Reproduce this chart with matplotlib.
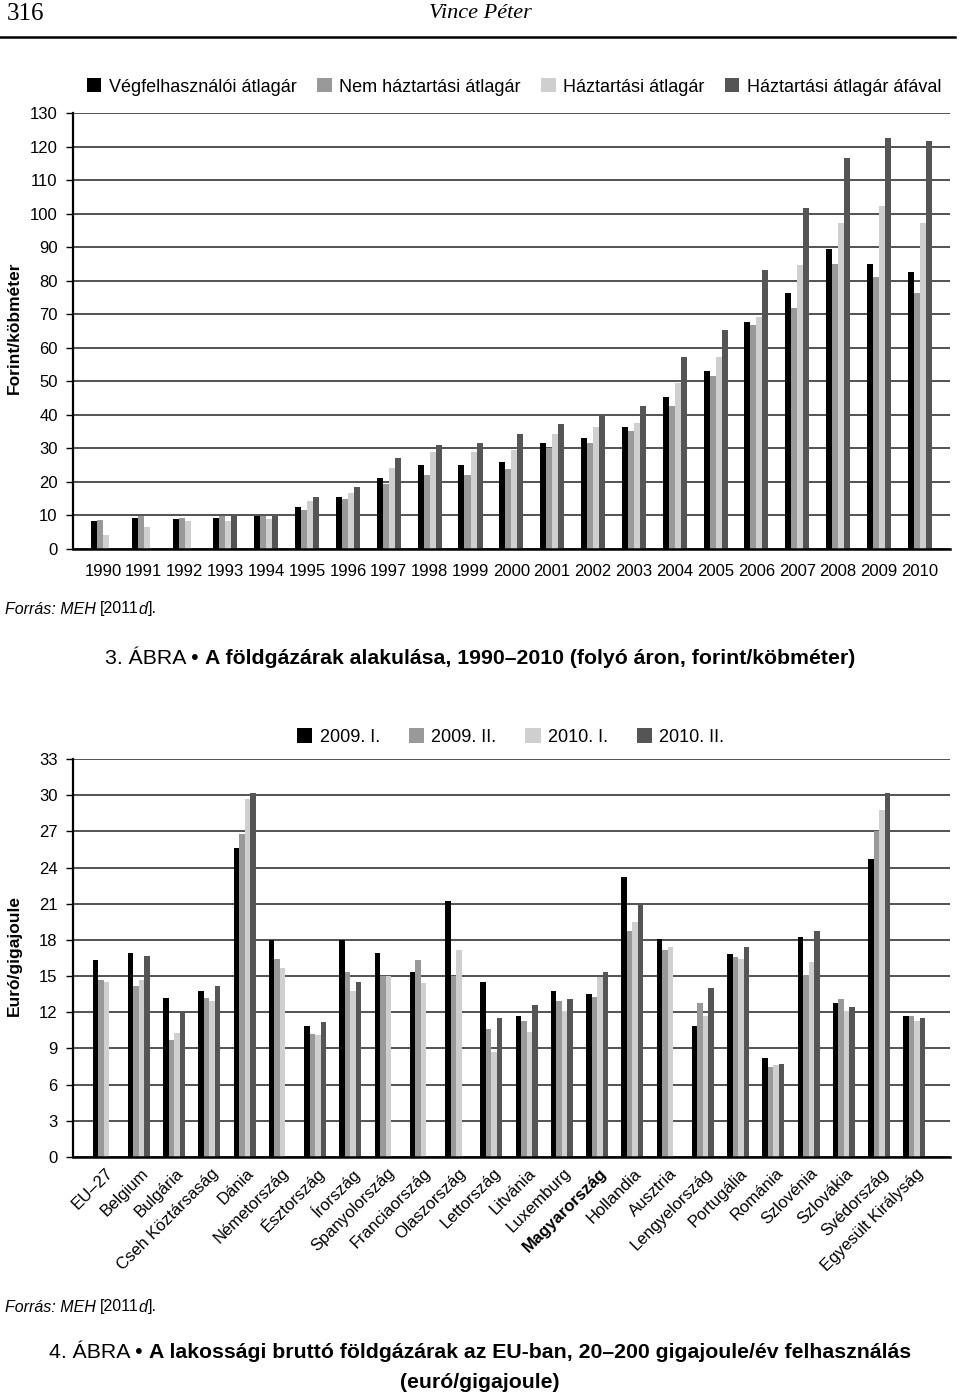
import numpy as np
import matplotlib
matplotlib.use("Agg")
import matplotlib.pyplot as plt
from matplotlib import transforms

plt.rcParams["font.family"] = ["Liberation Sans", "DejaVu Sans"]

# --- 3. ábra: földgázárak 1990-2010 (Ft/m3) ---
years = ["1990", "1991", "1992", "1993", "1994", "1995", "1996", "1997", "1998", "1999", "2000",
         "2001", "2002", "2003", "2004", "2005", "2006", "2007", "2008", "2009", "2010"]
vegfelhasznaloi = [8.2, 9.3, 8.8, 9.3, 9.9, 12.4, 15.6, 21.2, 25.1, 25.1, 25.8,
                   31.6, 33.2, 36.4, 45.2, 53.0, 67.7, 76.2, 89.5, 85.1, 82.7]
nem_haztartasi = [8.7, 9.7, 9.2, 9.9, 9.9, 11.7, 14.9, 19.5, 22.0, 22.0, 24.0,
                  30.1, 31.6, 35.3, 42.7, 51.6, 66.7, 71.8, 85.1, 81.0, 76.3]
haztartasi = [4.1, 6.7, 8.2, 8.3, 8.8, 14.2, 16.7, 24.1, 28.9, 28.9, 29.4,
              34.2, 36.4, 37.7, 49.4, 57.1, 69.1, 84.7, 97.3, 102.3, 97.3]
haztartasi_afa = [np.nan, np.nan, np.nan, 9.9, 9.9, 15.6, 18.6, 27.1, 31.1, 31.7, 34.2,
                  37.2, 39.8, 42.7, 57.1, 65.4, 83.2, 101.7, 116.6, 122.5, 121.7]
top_labels = ["Végfelhasználói átlagár", "Nem háztartási átlagár",
              "Háztartási átlagár", "Háztartási átlagár áfával"]
top_ticks = list(range(0, 131, 10))

# --- 4. ábra: lakossági bruttó földgázárak az EU-ban (euró/GJ) ---
countries = ["EU–27", "Belgium", "Bulgária", "Cseh Köztársaság", "Dánia", "Németország",
             "Észtország", "Írország", "Spanyolország", "Franciaország", "Olaszország",
             "Lettország", "Litvánia", "Luxemburg", "Magyarország", "Hollandia", "Ausztria",
             "Lengyelország", "Portugália", "Románia", "Szlovénia", "Szlovákia",
             "Svédország", "Egyesült Királyság"]
h2009_1 = [16.3, 16.9, 13.2, 13.8, 25.6, 18.0, 10.9, 18.0, 16.9, 15.3, 21.2, 14.5,
           11.7, 13.8, 13.5, 23.2, 18.1, 10.9, 16.8, 8.2, 18.2, 12.8, 24.7, 11.7]
h2009_2 = [14.7, 14.2, 9.7, 13.2, 26.8, 16.4, 10.2, 15.3, 15.0, 16.3, 15.0, 10.6,
           11.3, 12.9, 13.3, 18.7, 17.2, 12.8, 16.6, 7.5, 15.1, 13.1, 27.0, 11.7]
h2010_1 = [14.5, 14.7, 10.3, 12.9, 29.7, 15.7, 10.1, 13.8, 15.0, 14.4, 17.2, 8.7,
           10.4, 12.1, 14.9, 19.5, 17.4, 11.7, 16.4, 7.6, 16.2, 12.1, 28.8, 11.3]
h2010_2 = [np.nan, 16.7, 12.1, 14.2, 30.2, np.nan, 11.2, 14.5, np.nan, np.nan, np.nan, 11.5,
           12.6, 13.1, 15.3, 20.9, np.nan, 14.0, 17.4, 7.7, 18.7, 12.4, 30.2, 11.5]
bottom_labels = ["2009. I.", "2009. II.", "2010. I.", "2010. II."]
bottom_ticks = list(range(0, 34, 3))

colors = ["#000000", "#999999", "#cfcfcf", "#555555"]

W, H = 960, 1394
fig = plt.figure(figsize=(W / 100, H / 100), dpi=100)


def fx(x):
    return x / W


def fy(y):
    return 1 - y / H


def style_axes(ax, ticks):
    for s in ("top", "right"):
        ax.spines[s].set_visible(False)
    ax.spines["left"].set_linewidth(1.6)
    ax.spines["bottom"].set_linewidth(1.8)
    ax.set_yticks(ticks)
    ax.set_ylim(ticks[0], ticks[-1])
    ax.yaxis.grid(True, color="#444444", linewidth=1.3)
    ax.set_axisbelow(True)
    ax.tick_params(axis="y", length=5, width=1.0, direction="out", pad=6, labelsize=12)
    ax.tick_params(axis="x", length=0)


def grouped_bars(ax, series, labels, width):
    x = np.arange(len(series[0]))
    for k, (vals, c, lab) in enumerate(zip(series, colors, labels)):
        ax.bar(x + (k - 1.5) * width, vals, width=width, color=c, label=lab,
               linewidth=0)
    return x


# top chart
ax1 = fig.add_axes([fx(73), fy(549), fx(950 - 73), (549 - 113) / H])
x1 = grouped_bars(ax1, [vegfelhasznaloi, nem_haztartasi, haztartasi, haztartasi_afa],
                  top_labels, 0.147)
style_axes(ax1, top_ticks)
ax1.set_xlim(-0.734, 20.742)
ax1.set_xticks(x1)
ax1.set_xticklabels(years, fontsize=12)
ax1.tick_params(axis="x", pad=11)
ax1.set_ylabel("Forint/köbméter", fontsize=12.5, fontweight="bold")
ax1.yaxis.set_label_coords(-(73 - 22) / (950 - 73), (549 - 328) / 436)
ax1.legend(ncol=4, loc="center left", bbox_to_anchor=(fx(87), fy(87)),
           bbox_transform=fig.transFigure, frameon=False, fontsize=13,
           handlelength=0.8, handleheight=0.8, handletextpad=0.4,
           columnspacing=1.15, borderpad=0, borderaxespad=0)

# bottom chart
ax2 = fig.add_axes([fx(73), fy(1157), fx(950 - 73), (1157 - 759) / H])
x2 = grouped_bars(ax2, [h2009_1, h2009_2, h2010_1, h2010_2], bottom_labels, 0.156)
style_axes(ax2, bottom_ticks)
ax2.set_xlim(-0.871, 24.01)
ax2.set_xticks(x2)
ax2.set_xticklabels(countries, fontsize=12, rotation=45, ha="right",
                    rotation_mode="anchor", va="center")
ax2.tick_params(axis="x", pad=10)
shift = transforms.ScaledTranslation(7 / 100, 0, fig.dpi_scale_trans)
for lab in ax2.get_xticklabels():
    lab.set_transform(lab.get_transform() + shift)
    if lab.get_text() == "Magyarország":
        lab.set_fontweight("bold")
ax2.set_ylabel("Euró/gigajoule", fontsize=12.5, fontweight="bold")
ax2.yaxis.set_label_coords(-(73 - 22) / (950 - 73), (1157 - 955) / 398)
ax2.legend(ncol=4, loc="center left", bbox_to_anchor=(fx(297), fy(737)),
           bbox_transform=fig.transFigure, frameon=False, fontsize=13,
           handlelength=0.85, handleheight=0.85, handletextpad=0.4,
           columnspacing=1.6, borderpad=0, borderaxespad=0)

# page header
fig.text(fx(7), fy(14), "316", family=["Liberation Serif", "DejaVu Serif"], fontsize=18,
         va="center", ha="left")
fig.text(fx(480), fy(14), "Vince Péter", family=["Liberation Serif", "DejaVu Serif"],
         style="italic", fontsize=16, va="center", ha="center")
fig.add_artist(plt.Line2D([0, fx(955)], [fy(37), fy(37)], color="black", linewidth=1.8))

renderer = fig.canvas.get_renderer()


def text_width(s, **kw):
    t = fig.text(0, 0, s, **kw)
    w = t.get_window_extent(renderer).width
    t.remove()
    return w


def run_text(x, y, pieces, center=False):
    # pieces: list of (string, kwargs, kern in px); placed one after another
    widths = [text_width(s, **kw) for s, kw, _ in pieces]
    if center:
        x = x - sum(widths) / 2
    for (s, kw, kern), w in zip(pieces, widths):
        x += kern
        fig.text(fx(x), fy(y), s, va="center", ha="left", **kw)
        x += w


src = dict(fontsize=11.5)
it = dict(fontsize=11.5, style="italic")
for yy in (609, 1307):
    run_text(5, yy, [("Forrás: MEH", it, 0), (" ", src, 0), ("[2011", src, 0),
                     ("d", it, -1), ("].", src, 1)])

reg = dict(fontsize=15.3)
bold = dict(fontsize=15.3, fontweight="bold")
run_text(480, 658, [("3. ÁBRA • ", reg, 0),
                    ("A földgázárak alakulása, 1990–2010 (folyó áron, forint/köbméter)",
                     bold, 0)], center=True)
run_text(480, 1353, [("4. ÁBRA • ", reg, 0),
                     ("A lakossági bruttó földgázárak az EU-ban, 20–200 gigajoule/év felhasználás",
                      bold, 0)], center=True)
fig.text(fx(480), fy(1382), "(euró/gigajoule)", fontsize=15.3, fontweight="bold",
         ha="center", va="center")

fig.savefig("out.png", dpi=100)
